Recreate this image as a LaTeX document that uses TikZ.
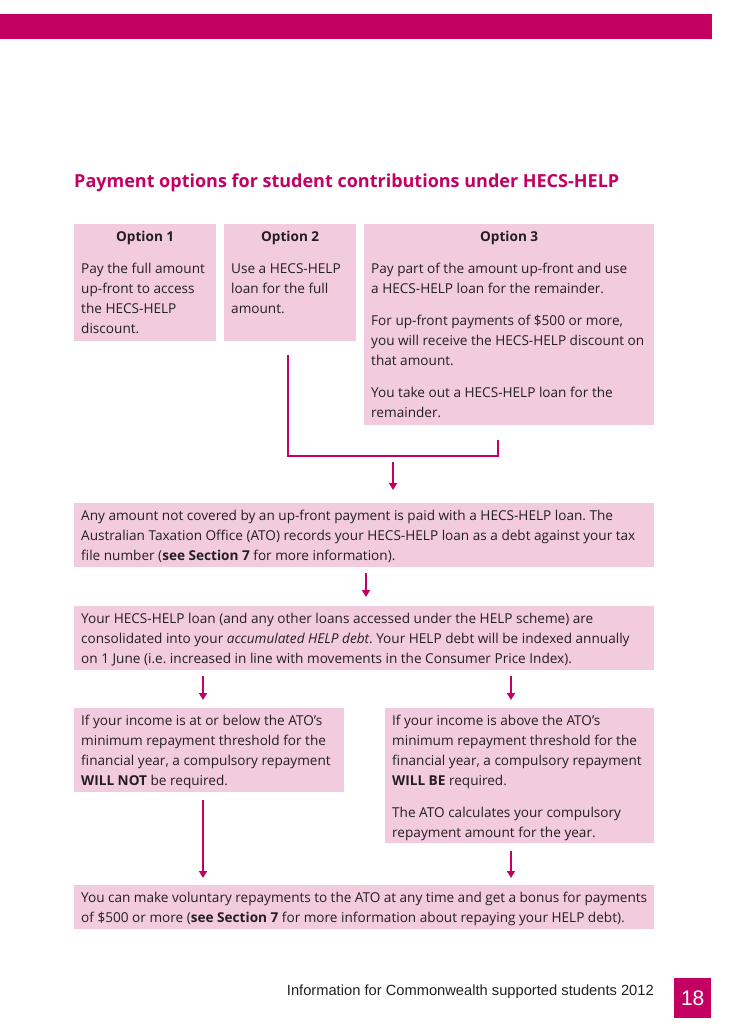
\documentclass[tikz,border=0pt]{standalone}
\usepackage{fontspec}
\setmainfont{Open Sans}
\newfontfamily\footfont{Liberation Sans}
\usetikzlibrary{arrows.meta}
\definecolor{hecsmagenta}{RGB}{196,0,98}
\definecolor{hecsfill}{RGB}{243,203,223}
\definecolor{hecstext}{RGB}{35,31,32}
\frenchspacing
\newcommand \boxtext [3] {\parbox[t][#2][t]{#1}{\raggedright\setlength{\parskip}{12pt}#3}}
\tikzset{
	hecsbox/.style={
		fill=hecsfill,
		inner xsep=7pt,
		inner ysep=7pt,
		anchor=north west,
		text=hecstext,
		font=\fontsize{13.6}{20}\selectfont
	},
	link/.style={
		draw=hecsmagenta,
		line width=1.5pt
	},
	flow/.style={
		link,
		-{Triangle[width=8pt,length=7pt]}
	}
}

\begin{document}
\begin{tikzpicture} [x=1pt, y=-1pt]
	\useasboundingbox (0,0) rectangle (728,1033);
	\fill[hecsmagenta] (0,14) rectangle (712,39);

	\node[anchor=base west, inner sep=0pt, text=hecsmagenta,
		font=\bfseries\fontsize{18}{20}\selectfont] (title) at (74,187)
		{Payment options for student contributions under HECS-HELP};

	% the three options
	\node[hecsbox] (opt1) at (74,224) {\boxtext{128pt}{103pt}{%
		{\centering\bfseries Option 1\par}
		Pay the full amount\\ up-front to access\\ the HECS-HELP\\ discount.}};
	\node[hecsbox] (opt2) at (224,224) {\boxtext{118pt}{103pt}{%
		{\centering\bfseries Option 2\par}
		Use a HECS-HELP\\ loan for the full\\ amount.}};
	\node[hecsbox] (opt3) at (364,224) {\boxtext{276pt}{187pt}{%
		{\centering\bfseries Option 3\par}
		Pay part of the amount up-front and use\\ a HECS-HELP loan for the remainder.\par
		For up-front payments of \$500 or more,\\ you will receive the HECS-HELP discount on\\ that amount.\par
		You take out a HECS-HELP loan for the\\ remainder.}};

	% debt and indexation
	\node[hecsbox] (debt) at (74,503) {\boxtext{566pt}{50pt}{%
		Any amount not covered by an up-front payment is paid with a HECS-HELP loan. The\\
		Australian Taxation Office (ATO) records your HECS-HELP loan as a debt against your tax\\
		file number (\textbf{see Section 7} for more information).}};
	\node[hecsbox] (index) at (74,606) {\boxtext{566pt}{50pt}{%
		Your HECS-HELP loan (and any other loans accessed under the HELP scheme) are\\
		consolidated into your \textit{accumulated HELP debt}. Your HELP debt will be indexed annually\\
		on 1 June (i.e. increased in line with movements in the Consumer Price Index).}};

	% the two income cases
	\node[hecsbox] (below) at (74,708) {\boxtext{256pt}{70pt}{%
		If your income is at or below the ATO’s\\ minimum repayment threshold for the\\
		financial year, a compulsory repayment\\ \textbf{WILL NOT} be required.}};
	\node[hecsbox] (above) at (385,708) {\boxtext{255pt}{121pt}{%
		If your income is above the ATO’s\\ minimum repayment threshold for the\\
		financial year, a compulsory repayment\\ \textbf{WILL BE} required.\par
		The ATO calculates your compulsory\\ repayment amount for the year.}};

	\node[hecsbox] (repay) at (74,885) {\boxtext{566pt}{30pt}{%
		You can make voluntary repayments to the ATO at any time and get a bonus for payments\\
		of \$500 or more (\textbf{see Section 7} for more information about repaying your HELP debt).}};

	% connectors
	\coordinate (o2foot) at ([xshift=-2pt, yshift=-14pt]opt2.south);
	\coordinate (o3foot) at (498,440);
	\coordinate (join) at (393,456);
	\coordinate (colM) at (366,0);
	\coordinate (colL) at (203,0);
	\coordinate (colR) at (511,0);

	\draw[link] (o2foot) |- (join) -| (o3foot);
	\draw[flow, shorten <=6pt, shorten >=13pt] (join) -- (debt.north -| join);
	\draw[flow, shorten <=6pt, shorten >=9pt] (debt.south -| colM) -- (index.north -| colM);
	\draw[flow, shorten <=6pt, shorten >=8pt] (index.south -| colL) -- (below.north -| colL);
	\draw[flow, shorten <=6pt, shorten >=8pt] (index.south -| colR) -- (above.north -| colR);
	\draw[flow, shorten <=8pt, shorten >=7pt] (below.south -| colL) -- (repay.north -| colL);
	\draw[flow, shorten <=8pt, shorten >=7pt] (above.south -| colR) -- (repay.north -| colR);

	% footer
	\node[anchor=base east, inner sep=0pt, text=hecstext,
		font=\footfont\fontsize{14.7}{16}\selectfont] (footer) at (654,995)
		{Information for Commonwealth supported students 2012};
	\node[anchor=north west, inner sep=0pt, fill=hecsmagenta, text=white,
		minimum width=37pt, minimum height=40pt,
		font=\footfont\fontsize{21}{21}\selectfont] (pagenum) at (674,978) {18};
\end{tikzpicture}
\end{document}
